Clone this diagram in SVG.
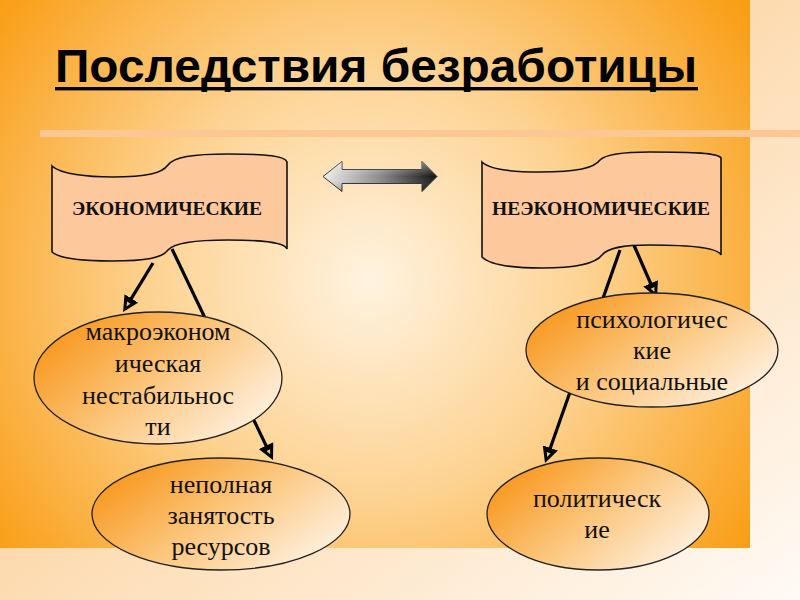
<svg xmlns="http://www.w3.org/2000/svg" width="800" height="600" viewBox="0 0 800 600">
<defs>
  <linearGradient id="bgOuter" x1="0" y1="0" x2="1" y2="1">
    <stop offset="0" stop-color="#fbc27c"/>
    <stop offset="0.5" stop-color="#fddcb2"/>
    <stop offset="1" stop-color="#fffaf5"/>
  </linearGradient>
  <radialGradient id="bgMain" gradientUnits="userSpaceOnUse" cx="370" cy="280" r="480">
    <stop offset="0" stop-color="#fff3e0"/>
    <stop offset="0.45" stop-color="#fdd393"/>
    <stop offset="1" stop-color="#f99a0c"/>
  </radialGradient>
  <linearGradient id="eg" x1="0" y1="0.25" x2="1" y2="0.85">
    <stop offset="0" stop-color="#f8961a"/>
    <stop offset="0.45" stop-color="#fbc478"/>
    <stop offset="1" stop-color="#fff6ec"/>
  </linearGradient>
  <linearGradient id="dbl" x1="0" y1="0" x2="1" y2="0">
    <stop offset="0" stop-color="#eeeeee"/>
    <stop offset="0.5" stop-color="#8a8a8a"/>
    <stop offset="1" stop-color="#111111"/>
  </linearGradient>
  <linearGradient id="shine" x1="0" y1="0" x2="0" y2="1">
    <stop offset="0" stop-color="#ffffff" stop-opacity="0.45"/>
    <stop offset="0.5" stop-color="#ffffff" stop-opacity="0"/>
    <stop offset="1" stop-color="#000000" stop-opacity="0.25"/>
  </linearGradient>
  <marker id="ah" viewBox="0 0 16 16" refX="4" refY="8" markerWidth="16" markerHeight="16" markerUnits="userSpaceOnUse" orient="auto">
    <path d="M0,0 L16,8 L0,16 Z" fill="#000"/>
    <path d="M5,6 L9.5,8 L5,10 Z" fill="#f6c07e"/>
  </marker>
  <style>
    .banner { fill: #fdc89c; stroke: #111; stroke-width: 1.6; }
    .btxt { font-family: "Liberation Serif", "DejaVu Serif", serif; font-weight: bold; font-size: 18px; fill: #111; text-anchor: middle; }
    .ell { fill: url(#eg); stroke: #222; stroke-width: 1.3; }
    .etxt { font-family: "Liberation Serif", "DejaVu Serif", serif; font-size: 26px; fill: #111; text-anchor: middle; }
    .conn { stroke: #000; stroke-width: 3.2; fill: none; }
  </style>
</defs>

<!-- background -->
<rect x="0" y="0" width="800" height="600" fill="url(#bgOuter)"/>
<rect x="0" y="0" width="750" height="548" fill="url(#bgMain)"/>
<rect x="40" y="130" width="760" height="7" fill="#fcc792"/>

<!-- title -->
<g id="title">
  <text x="55" y="82" font-family="'Liberation Sans', Arial, sans-serif" font-weight="bold" font-size="47" fill="#000" textLength="642" lengthAdjust="spacingAndGlyphs">Последствия безработицы</text>
  <rect x="55" y="87" width="643" height="3.4" fill="#000"/>
</g>

<!-- double arrow -->
<g id="double-arrow">
  <polygon points="323,176.5 342,161.5 342,169.5 422,169.5 422,161.5 437,176.5 422,191.5 422,183.5 342,183.5 342,191.5" fill="url(#dbl)" stroke="#333" stroke-width="1"/>
  <polygon points="323,176.5 342,161.5 342,169.5 422,169.5 422,161.5 437,176.5 422,191.5 422,183.5 342,183.5 342,191.5" fill="url(#shine)"/>
</g>

<!-- connectors -->
<g id="connectors">
  <line class="conn" x1="153" y1="263" x2="129.3" y2="301.8" marker-end="url(#ah)"/>
  <line class="conn" x1="172" y1="249" x2="267.8" y2="449.2" marker-end="url(#ah)"/>
  <line class="conn" x1="633" y1="243" x2="652.2" y2="287" marker-end="url(#ah)"/>
  <line class="conn" x1="620" y1="250" x2="549" y2="451.7" marker-end="url(#ah)"/>
</g>

<!-- banners -->
<g id="node-economic">
  <path class="banner" d="M52,166 C60,174 88,177 112,177 C148,177 162,173 168,165 C174,157 192,154 228,154 C268,154 285,156 287,162 L287,249 C285,243 268,240 228,240 C192,240 174,243 168,250 C162,258 146,261 112,261 C86,261 60,259 52,252 Z"/>
  <text class="btxt" x="167" y="215" textLength="190" lengthAdjust="spacingAndGlyphs">ЭКОНОМИЧЕСКИЕ</text>
</g>
<g id="node-noneconomic">
  <path class="banner" d="M482,162 C490,170 515,172 540,172 C578,172 594,168 600,160 C606,154 622,152 650,152 C694,152 718,153 721,158 L721,255 C718,248 694,245 650,245 C622,245 608,248 602,255 C596,263 578,268 542,268 C515,268 490,265 482,257 Z"/>
  <text class="btxt" x="601" y="215" textLength="218" lengthAdjust="spacingAndGlyphs">НЕЭКОНОМИЧЕСКИЕ</text>
</g>

<!-- ellipses -->
<g id="node-macro">
  <ellipse class="ell" cx="158" cy="378" rx="124" ry="66"/>
  <text class="etxt" x="158" y="340">макроэконом</text>
  <text class="etxt" x="158" y="372">ическая</text>
  <text class="etxt" x="158" y="404">нестабильнос</text>
  <text class="etxt" x="158" y="435">ти</text>
</g>
<g id="node-employment">
  <ellipse class="ell" cx="221" cy="514" rx="129" ry="56"/>
  <text class="etxt" x="221" y="493">неполная</text>
  <text class="etxt" x="221" y="524">занятость</text>
  <text class="etxt" x="221" y="555">ресурсов</text>
</g>
<g id="node-psych">
  <ellipse class="ell" cx="652" cy="350" rx="126" ry="57"/>
  <text class="etxt" x="652" y="328">психологичес</text>
  <text class="etxt" x="652" y="359">кие</text>
  <text class="etxt" x="652" y="390">и социальные</text>
</g>
<g id="node-political">
  <ellipse class="ell" cx="598" cy="514" rx="111" ry="56"/>
  <text class="etxt" x="597" y="507">политическ</text>
  <text class="etxt" x="597" y="538">ие</text>
</g>
</svg>
